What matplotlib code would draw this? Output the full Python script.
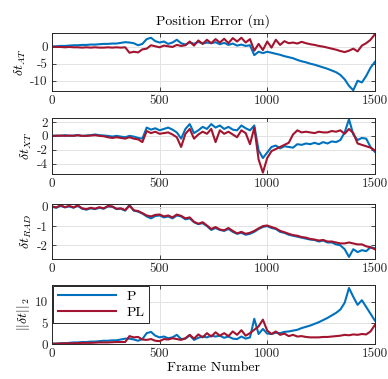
import numpy as np
import matplotlib
matplotlib.use("Agg")
import matplotlib.pyplot as plt

frames = list(range(0, 1501, 20))

# along-track error
at_p = [0, 0.1, 0.2, 0.2, 0.3, 0.4, 0.4, 0.5, 0.5, 0.6, 0.6, 0.7, 0.8, 0.8, 0.9, 0.9,
        1.1, 1.3, 1.2, 1.0, 0.4, 0.8, 2.2, 2.6, 1.6, 1.2, 1.5, 0.8, 1.2, 2.0, 1.0, 0.6,
        1.2, 0.8, 1.4, 0.9, 1.2, 1.0, 1.3, 0.7, 1.1, 0.5, 0.9, 0.3, 0.6, 0.2, 0.4, -2.5,
        -1.5, -1.9, -1.5, -1.8, -2.1, -2.4, -2.8, -3.1, -3.4, -3.9, -4.3, -4.6, -5.0, -5.3,
        -5.7, -6.1, -6.5, -7.0, -7.5, -8.3, -9.6, -11.5, -12.8, -10.0, -10.5, -8.6, -6.2, -4.5]
at_pl = [0, -0.1, -0.1, -0.2, -0.1, -0.2, -0.2, -0.3, -0.2, -0.3, -0.2, -0.3, -0.3, -0.2, -0.3, -0.2,
         -0.3, -0.2, -1.8, -1.5, -1.7, -0.8, -0.6, 0.4, 0.1, -0.2, 0.3, 0.1, -0.1, 0.5, 0.2, 0.4,
         1.5, 0.3, 1.8, 0.8, 2.0, 1.0, 2.2, 1.2, 2.3, 1.0, 2.5, 1.5, 2.6, 1.2, 2.2, -1.2,
         0.8, -1.0, 1.5, -0.3, 2.0, 0.5, 1.6, 1.0, 1.2, 0.9, 1.4, 1.0, 0.7, 0.5,
         0.2, 0.0, -0.3, -0.6, -0.9, -1.3, -1.6, -1.2, -0.6, -1.4, 0.3, 1.0, 2.0, 3.6]

# cross-track error
xt_p = [0, 0.05, 0, 0.1, 0, 0.05, 0.1, 0, 0.05, 0.1, 0.2, 0.1, 0.05, 0, -0.1, 0,
        -0.1, -0.2, 0, -0.1, -0.3, -0.4, 1.2, 0.9, 1.1, 0.8, 1.0, 1.2, 0.9, 0.5, -0.4, 1.0,
        1.7, 0.4, 0.8, 1.3, 1.0, 1.7, 1.2, 1.5, 1.0, 1.3, 0.9, 0.8, 1.5, 1.1, 0.8, 1.5,
        -2.1, -3.2, -2.4, -1.6, -1.4, -1.8, -1.5, -1.6, -1.7, -1.2, -1.3, -1.1, -1.2, -1.0,
        -1.2, -0.9, -1.1, -0.8, -0.9, -0.6, 0.5, 2.4, 0.2, -0.6, -0.3, -0.4, -1.6, -2.3]
xt_pl = [0, 0, 0.05, 0, 0.05, 0, 0.1, 0, 0, 0.05, 0.1, 0, -0.05, -0.2, -0.3, -0.2,
         -0.3, -0.4, -0.2, -0.4, -0.5, -0.9, 0.7, 0.4, 0.6, 0.3, 0.4, 0.5, 0.2, -0.2, -1.6, 0.3,
         1.0, -0.4, 0.2, 0.6, 0.3, 1.0, -0.9, 0.8, 0.3, 0.6, 0.2, -0.2, 0.8, 0.4, -1.2, 1.2,
         -3.4, -5.3, -3.2, -2.2, -1.9, -1.6, -1.3, -1.0, 0.2, 0.8, 0.5, 0.6, 0.5, 0.4,
         0.6, 0.5, 0.5, 0.7, 0.6, 0.8, 0.3, 1.0, 0.4, -1.1, -1.3, -1.5, -1.7, -2.1]

# radial error
rad_p = [0.0, -0.05, 0.05, -0.03, 0.02, -0.05, 0.05, -0.1, -0.15, -0.08, -0.12, -0.05, -0.1, 0.02, 0.0, -0.12,
         -0.1, -0.2, 0.1, -0.2, -0.25, -0.35, -0.5, -0.6, -0.48, -0.45, -0.55, -0.5, -0.6, -0.45, -0.5, -0.65,
         -0.6, -0.8, -0.9, -0.85, -1.0, -1.2, -1.1, -1.2, -1.25, -1.15, -1.3, -1.4, -1.35, -1.45, -1.4, -1.3,
         -1.15, -1.05, -1.0, -1.1, -1.15, -1.3, -1.35, -1.45, -1.5, -1.55, -1.6, -1.65, -1.7, -1.72,
         -1.8, -1.75, -1.85, -1.85, -1.95, -2.0, -2.2, -2.6, -2.2, -2.35, -2.25, -2.3, -2.1, -2.15]
rad_pl = [0.02, -0.03, 0.08, -0.02, 0.05, -0.03, 0.07, -0.08, -0.12, -0.05, -0.1, -0.02, -0.08, 0.04, 0.02, -0.1,
          -0.08, -0.17, 0.05, -0.18, -0.22, -0.33, -0.45, -0.5, -0.42, -0.4, -0.5, -0.45, -0.55, -0.4, -0.47, -0.6,
          -0.55, -0.78, -0.88, -0.8, -0.97, -1.15, -1.05, -1.18, -1.22, -1.1, -1.25, -1.38, -1.3, -1.4, -1.35, -1.25,
          -1.12, -1.0, -0.97, -1.05, -1.12, -1.25, -1.32, -1.4, -1.47, -1.5, -1.57, -1.6, -1.67, -1.7,
          -1.75, -1.72, -1.8, -1.8, -1.85, -1.9, -1.9, -1.85, -1.9, -1.95, -1.95, -2.05, -2.1, -2.2]

# norm of the error
nrm_p = [0.1, 0.15, 0.2, 0.2, 0.3, 0.4, 0.4, 0.5, 0.5, 0.6, 0.6, 0.7, 0.8, 0.8, 0.9, 0.9,
         1.1, 1.3, 1.3, 1.1, 0.8, 1.2, 2.6, 2.9, 2.0, 1.6, 1.8, 1.4, 1.6, 2.2, 1.2, 1.3,
         2.1, 1.0, 1.5, 1.8, 1.6, 2.0, 1.8, 2.0, 1.5, 1.8, 1.3, 1.2, 1.8, 1.3, 1.6, 6.0,
         2.4, 3.6, 2.5, 2.4, 2.7, 2.6, 2.9, 3.0, 3.2, 3.4, 3.8, 4.1, 4.4, 4.8,
         5.2, 5.7, 6.2, 6.8, 7.4, 8.2, 9.8, 13.3, 11.2, 9.3, 10.4, 8.8, 7.2, 5.6]
nrm_pl = [0.1, 0.1, 0.15, 0.2, 0.2, 0.2, 0.25, 0.3, 0.3, 0.3, 0.35, 0.4, 0.4, 0.4, 0.45, 0.5,
          0.5, 0.5, 1.9, 1.6, 1.7, 1.1, 1.0, 1.2, 0.8, 0.7, 1.2, 1.1, 1.4, 1.2, 1.0, 1.4,
          2.2, 1.3, 2.3, 1.6, 2.6, 1.8, 2.8, 2.0, 2.6, 1.9, 3.0, 2.2, 3.3, 2.0, 2.6, 3.4,
          4.2, 5.8, 3.2, 2.4, 3.0, 2.2, 2.5, 1.9, 2.2, 1.8, 1.9, 1.7, 1.6, 1.6,
          1.6, 1.7, 1.7, 1.8, 1.9, 2.0, 2.2, 2.1, 2.3, 2.2, 2.4, 2.3, 3.0, 4.5]

ylabels = [r"$\delta t_{AT}$", r"$\delta t_{XT}$", r"$\delta t_{RAD}$", r"$||\delta t||_2$"]
yticks = [[-10, -5, 0], [-4, -2, 0, 2], [-2, -1, 0], [0, 5, 10]]
ylims = [(-13, 4), (-5.5, 2.6), (-2.7, 0.15), (0, 14)]

BLUE = "#0072BD"
RED = "#A2142F"

plt.rcParams["font.family"] = "serif"
plt.rcParams["font.serif"] = ["cmr10", "DejaVu Serif"]
plt.rcParams["mathtext.fontset"] = "cm"
plt.rcParams["axes.unicode_minus"] = False
plt.rcParams["font.size"] = 9.5

fig = plt.figure(figsize=(3.88, 3.79), dpi=100)
boxes = [(0.760, 0.153), (0.541, 0.148), (0.317, 0.145), (0.092, 0.156)]
series = [(at_p, at_pl), (xt_p, xt_pl), (rad_p, rad_pl), (nrm_p, nrm_pl)]

for k in range(4):
    ax = fig.add_axes([0.134, boxes[k][0], 0.832, boxes[k][1]])
    p, pl = series[k]
    ax.plot(frames, p, color=BLUE, lw=1.5, label="P")
    ax.plot(frames, pl, color=RED, lw=1.5, label="PL")
    ax.set_xlim(0, 1500)
    ax.set_ylim(*ylims[k])
    ax.set_xticks([0, 500, 1000, 1500])
    ax.set_yticks(yticks[k])
    ax.set_ylabel(ylabels[k], fontsize=10, labelpad=2)
    ax.grid(True, color="#e3e3e3", lw=0.7)
    ax.set_axisbelow(True)
    ax.tick_params(direction="in", top=True, right=True, length=3, width=0.6,
                   colors="#262626", pad=3)
    for s in ax.spines.values():
        s.set_color("#262626")
        s.set_linewidth(0.7)
    if k == 0:
        ax.set_title("Position Error (m)", fontsize=10, pad=6)
    if k == 3:
        ax.set_xlabel("Frame Number", fontsize=10, labelpad=1)
        leg = ax.legend(loc="upper left", fontsize=10, handlelength=4.2,
                        borderaxespad=0.1, fancybox=False, framealpha=1,
                        edgecolor="#262626", borderpad=0.3, labelspacing=0.2)
        leg.get_frame().set_linewidth(0.7)

fig.savefig("out.png", dpi=100)
